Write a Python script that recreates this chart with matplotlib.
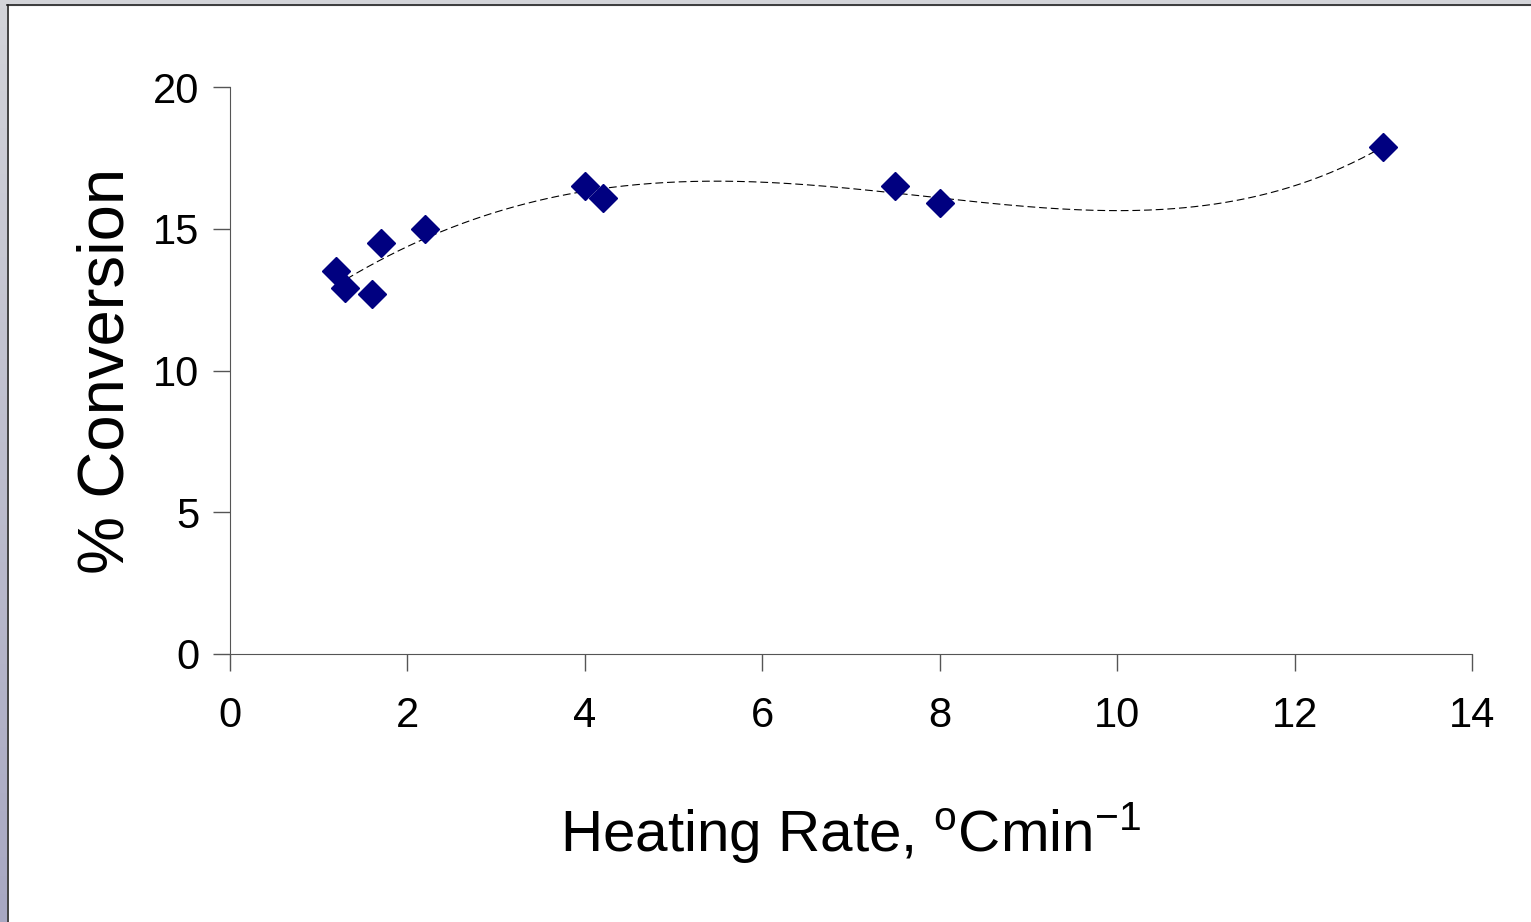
import numpy as np
import matplotlib.pyplot as plt
from matplotlib.patches import Rectangle
from matplotlib.lines import Line2D
from matplotlib.colors import LinearSegmentedColormap

# data
heating_rate = [1.2, 1.3, 1.6, 1.7, 2.2, 4.0, 4.2, 7.5, 8.0, 13.0]
conversion = [13.5, 12.9, 12.7, 14.5, 15.0, 16.5, 16.1, 16.5, 15.9, 17.9]

x_ticks = [0, 2, 4, 6, 8, 10, 12, 14]
y_ticks = [0, 5, 10, 15, 20]

# order of the polynomial trendline
trend_order = 4

plt.rcParams['font.family'] = ['Liberation Sans', 'DejaVu Sans']

fig = plt.figure(figsize=(15.31, 9.22), dpi=100)

# grey window frame at top and left
fig.patches.append(Rectangle((0, 1 - 5 / 922), 1, 5 / 922, transform=fig.transFigure,
                             color='#d3d4d9', zorder=0))
strip = fig.add_axes([0, 0, 7 / 1531, 1])
frame_cmap = LinearSegmentedColormap.from_list('frame', ['#d3d4d9', '#a8a8c2'])
strip.imshow(np.linspace(0, 1, 100).reshape(-1, 1), aspect='auto', cmap=frame_cmap)
strip.axis('off')
fig.lines.append(Line2D([7.5 / 1531, 7.5 / 1531], [0, 1 - 5.5 / 922], transform=fig.transFigure,
                        color='#222222', lw=1.2))
fig.lines.append(Line2D([7 / 1531, 1], [1 - 5.5 / 922, 1 - 5.5 / 922], transform=fig.transFigure,
                        color='#222222', lw=1.2))

ax = fig.add_axes([0.1502, 0.2907, 0.8113, 0.6149])

# polynomial trendline through the points
coefs = np.polyfit(heating_rate, conversion, trend_order)
xs = np.linspace(min(heating_rate), max(heating_rate), 300)
ax.plot(xs, np.polyval(coefs, xs), color='black', lw=0.8, dashes=(7, 3.5))

ax.plot(heating_rate, conversion, linestyle='none', marker='D', markersize=14,
        color='#000080', markeredgecolor='#000080', zorder=3)

ax.set_xlim(0, 14)
ax.set_ylim(0, 20)
ax.set_xticks(x_ticks)
ax.set_yticks(y_ticks)
ax.tick_params(labelsize=30, length=12, width=1, color='#555555')
ax.tick_params(axis='x', pad=18)
ax.tick_params(axis='y', pad=10)
for side in ['top', 'right']:
    ax.spines[side].set_visible(False)
for side in ['left', 'bottom']:
    ax.spines[side].set_color('#555555')

ax.set_xlabel('Heating Rate, $\\mathregular{^o}$Cmin$\\mathregular{^{-1}}$', fontsize=42, labelpad=46)
ax.set_ylabel('% Conversion', fontsize=47, labelpad=12)

fig.savefig('out.png', dpi=100)
